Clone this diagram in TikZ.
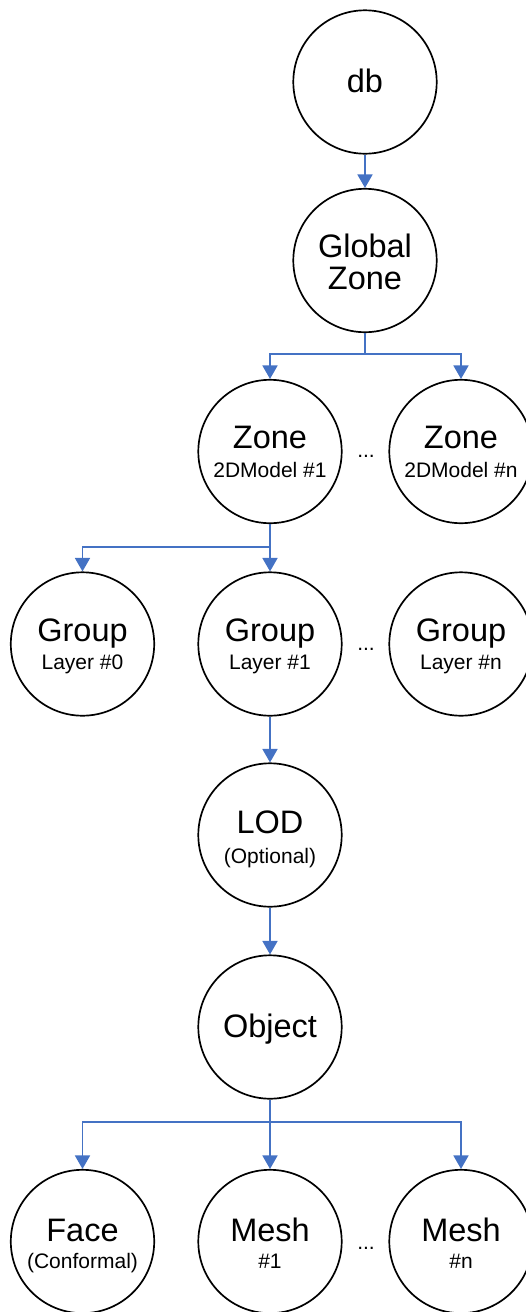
\documentclass[tikz,border=0pt]{standalone}
\usepackage{fontspec}
\setmainfont{Liberation Sans}
\usetikzlibrary{arrows.meta,calc}
\definecolor{lnblue}{HTML}{4472C4}
\begin{document}
\begin{tikzpicture}[x=1pt,y=-1pt,
  circ/.style={circle,draw=black,line width=1.7pt,minimum size=143.4pt,inner sep=0pt},
  big/.style={anchor=base,font=\fontsize{32.5}{38}\selectfont,inner sep=0pt},
  small/.style={anchor=base,font=\fontsize{21}{25}\selectfont,inner sep=0pt},
  conn/.style={draw=lnblue,line width=1.7pt,-{Triangle[width=15pt,length=13.5pt]}}]
\clip (0,0) rectangle (526,1312);
% circles
\node[circ] (db)   at (365,82) {};
\node[circ] (gz)   at (365,260.5) {};
\node[circ] (z1)   at (270,451.5) {};
\node[circ] (zn)   at (461,451.5) {};
\node[circ] (g0)   at (82.5,644) {};
\node[circ] (g1)   at (270,644) {};
\node[circ] (gn)   at (461,644) {};
\node[circ] (lod)  at (270,835) {};
\node[circ] (obj)  at (270,1027) {};
\node[circ] (face) at (82.5,1241.5) {};
\node[circ] (m1)   at (270,1241.5) {};
\node[circ] (mn)   at (461,1241.5) {};
% texts
\node[big] (tdb) at ($(db)+(0,10.5)$) {db};
\node[big] (tgz1) at ($(gz)+(0,-3.5)$) {Global};
\node[big] (tgz2) at ($(gz)+(0,28.5)$) {Zone};
\node[big] (tz1) at ($(z1)+(0,-3.5)$) {Zone};
\node[small] (sz1) at ($(z1)+(0,25.5)$) {2DModel \#1};
\node[big] (tzn) at ($(zn)+(0,-3.5)$) {Zone};
\node[small] (szn) at ($(zn)+(0,25.5)$) {2DModel \#n};
\node[big] (tg0) at ($(g0)+(0,-3)$) {Group};
\node[small] (sg0) at ($(g0)+(0,25)$) {Layer \#0};
\node[big] (tg1) at ($(g1)+(0,-3)$) {Group};
\node[small] (sg1) at ($(g1)+(0,25)$) {Layer \#1};
\node[big] (tgn) at ($(gn)+(0,-3)$) {Group};
\node[small] (sgn) at ($(gn)+(0,25)$) {Layer \#n};
\node[big] (tlod) at ($(lod)+(0,-2)$) {LOD};
\node[small] (slod) at ($(lod)+(0,28)$) {(Optional)};
\node[big] (tobj) at ($(obj)+(0,10.5)$) {Object};
\node[big] (tface) at ($(face)+(0,-0.5)$) {Face};
\node[small] (sface) at ($(face)+(0,26.5)$) {(Conformal)};
\node[big] (tm1) at ($(m1)+(0,-0.5)$) {Mesh};
\node[small] (sm1) at ($(m1)+(0,26.5)$) {\#1};
\node[big] (tmn) at ($(mn)+(0,-0.5)$) {Mesh};
\node[small] (smn) at ($(mn)+(0,26.5)$) {\#n};
% dots
\node[small] (d1) at (366,457) {...};
\node[small] (d2) at (366,650) {...};
\node[small] (d3) at (366,1249) {...};
% connectors
\draw[conn] (db) -- (gz);
\draw[conn] (gz.south) -- ++(0,21) -| (z1.north);
\draw[conn] (gz.south) -- ++(0,21) -| (zn.north);
\draw[conn] (z1) -- (g1);
\draw[conn] (z1.south) -- ++(0,23) -| (g0.north);
\draw[conn] (g1) -- (lod);
\draw[conn] (lod) -- (obj);
\draw[conn] (obj) -- (m1);
\draw[conn] (obj.south) -- ++(0,22.5) -| (face.north);
\draw[conn] (obj.south) -- ++(0,22.5) -| (mn.north);
\end{tikzpicture}
\end{document}
